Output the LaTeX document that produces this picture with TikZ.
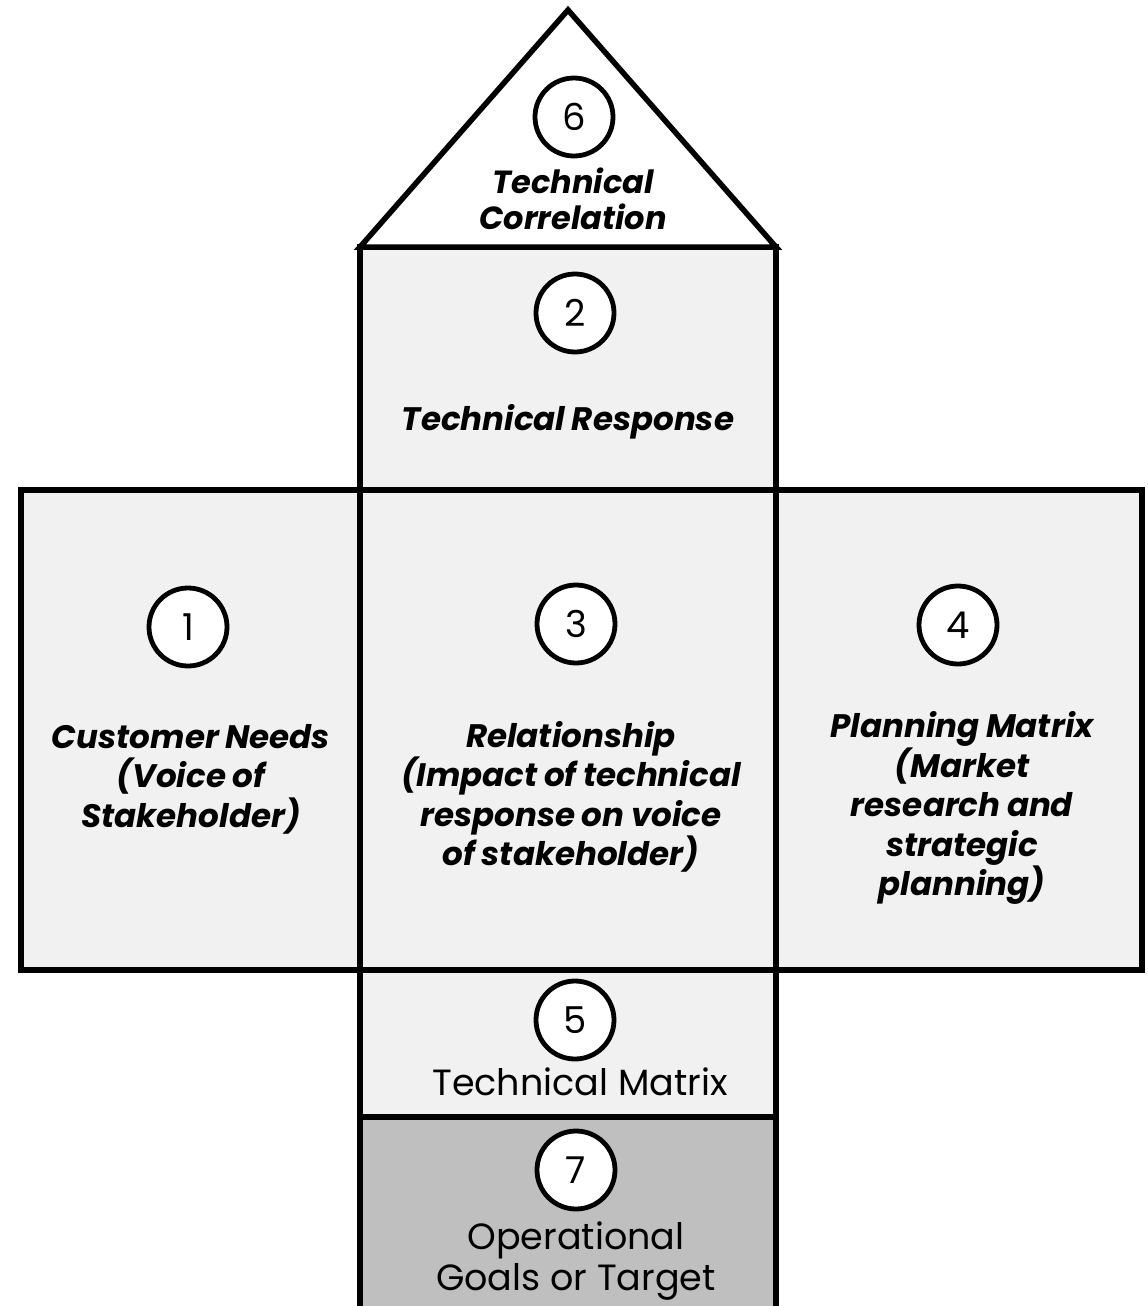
\documentclass[tikz,border=0pt]{standalone}
\usepackage{fontspec}
\setmainfont{Poppins}
\newcommand{\labfont}{\fontsize{32.5}{39.5}\selectfont\bfseries\itshape\spaceskip=0.2em\relax}
\newcommand{\roofont}{\fontsize{32}{36}\selectfont\bfseries\itshape}
\begin{document}
\begin{tikzpicture}[x=1pt,y=-1pt,
  box/.style={draw=black,line width=5.5pt,fill=boxgray},
  num/.style={circle,draw=black,line width=4.8pt,fill=white,minimum size=78pt,inner sep=0pt,font=\fontsize{37}{37}\selectfont},
  lab/.style={align=center,font=\labfont},
  plain/.style={align=center,font=\fontsize{36.5}{41}\selectfont}]
\definecolor{boxgray}{HTML}{F1F1F1}
\definecolor{darkgray}{HTML}{BFBFBF}
\useasboundingbox (0,0) rectangle (1148,1306);
\begin{scope}
\clip (0,0) rectangle (1148,1306);
% bottom box (gray)
\draw[box,fill=darkgray] (360,1117) rectangle (776,1320);
% technical matrix
\draw[box] (360,970) rectangle (776,1117);
% left and right
\draw[box] (21,490) rectangle (360,970);
\draw[box] (776,490) rectangle (1142,970);
% middle
\draw[box] (360,490) rectangle (776,970);
% technical response
\draw[box] (360,247) rectangle (776,490);
% roof
\draw[box,fill=white,line join=miter] (568,10) -- (776,247) -- (360,247) -- cycle;
\end{scope}
\node[num] (n6) at (574,117) {6};
\node[num] (n2) at (575,313) {2};
\node[num] (n1) at (188,627) {1};
\node[num] (n3) at (576,624) {3};
\node[num] (n4) at (958,625) {4};
\node[num] (n5) at (575,1020) {5};
\node[num] (n7) at (576,1170) {7};
\node[align=center,font=\roofont] (t6) at (573,199) {Technical\\Correlation};
\node[lab] (t2) at (568,422) {Technical Response};
\node[lab] (t1) at (191,779) {Customer Needs\\(Voice of\\Stakeholder)};
\node[lab] (t3) at (571,797) {Relationship\\(Impact of technical\\response on voice\\of stakeholder)};
\node[lab] (t4) at (962,808) {Planning Matrix\\(Market\\research and\\strategic\\planning)};
\node[plain] (t5) at (580,1082) {Technical Matrix};
\node[plain] (t7) at (576,1261) {Operational\\Goals or Target};
\end{tikzpicture}
\end{document}
